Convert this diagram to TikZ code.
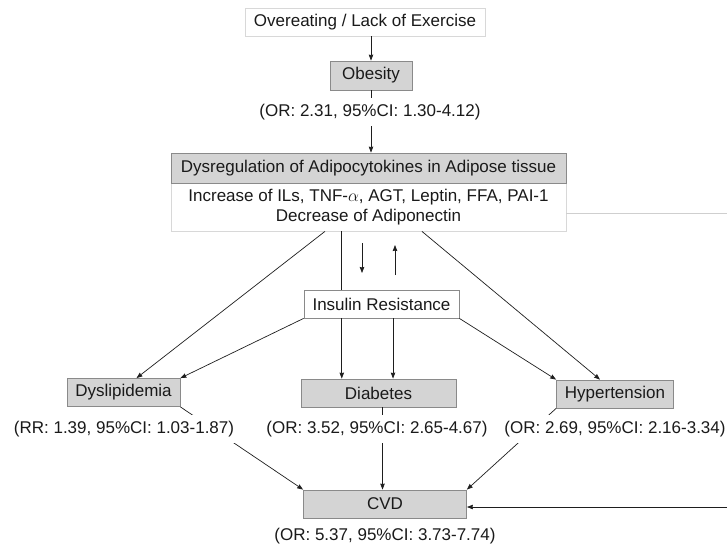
\documentclass[tikz,border=0pt]{standalone}
\usepackage{fontspec}
\setmainfont{Liberation Sans}
\usepackage{xcolor}
\usepackage{tikz}
\usetikzlibrary{arrows.meta, positioning, calc}
\definecolor{boxgray}{HTML}{D4D4D4}
\definecolor{edgegray}{HTML}{8A8A8A}
\definecolor{lightedge}{HTML}{D8D8D8}
\definecolor{linedark}{HTML}{1E1E1E}
\definecolor{faintline}{HTML}{CFCFCF}
\definecolor{textdark}{HTML}{1A1A1A}
\tikzset{
  basenode/.style={draw=edgegray, line width=0.8pt, inner sep=0pt, align=center, text=textdark, font=\fontsize{17}{20}\selectfont},
  whitebox/.style={basenode, fill=white, draw=lightedge},
  graybox/.style={basenode, fill=boxgray},
  irbox/.style={basenode, fill=white},
  orlabel/.style={fill=white, inner xsep=2pt, inner ysep=6pt, text=textdark, font=\fontsize{17}{20}\selectfont},
  arr/.style={-{Stealth[length=6pt, width=4.5pt, inset=0.5pt]}, line width=0.7pt, linedark},
  plainline/.style={line width=0.7pt, linedark},
  fadeline/.style={line width=1pt, faintline}
}

\begin{document}
\begin{tikzpicture}[x=1pt, y=-1pt]
\useasboundingbox (0,0) rectangle (727,546);

% ===== MAIN SPINE =====
\node[whitebox, minimum width=240pt, minimum height=28pt] (CAUSE) at (365, 22)  {Overeating / Lack of Exercise};
\node[graybox, minimum width=82pt, minimum height=29pt]   (OBE) at (371, 75.5)  {Obesity};
\node[whitebox, minimum width=395pt, minimum height=48pt] (ADI) at (368.5, 207) {Increase of ILs, TNF-$\alpha$, AGT, Leptin, FFA, PAI-1\\Decrease of Adiponectin};
\node[graybox, minimum width=395pt, minimum height=30pt]  (DYS) at (368.5, 168) {Dysregulation of Adipocytokines in Adipose tissue};
\node[irbox, minimum width=155pt, minimum height=28pt]    (IR) at (381.5, 304)  {Insulin Resistance};

% ===== DISEASE ROW =====
\node[graybox, minimum width=113pt, minimum height=28pt] (DLP) at (123.5, 392.5) {Dyslipidemia};
\node[graybox, minimum width=155pt, minimum height=28pt] (DIA) at (378.5, 393)   {Diabetes};
\node[graybox, minimum width=117pt, minimum height=28pt] (HTN) at (615, 394)     {Hypertension};
\node[graybox, minimum width=163pt, minimum height=28pt] (CVD) at (385, 504)     {CVD};

% ===== HELPER POINTS =====
\coordinate (ADL) at ($(ADI.south west)!0.39!(ADI.south east)$);
\coordinate (ADR) at ($(ADI.south west)!0.635!(ADI.south east)$);
\coordinate (IRa) at ($(IR.south west)!0.245!(IR.south east)$);
\coordinate (IRb) at ($(IR.south west)!0.574!(IR.south east)$);
\coordinate (DIAo) at ([xshift=4pt]DIA.south);
\coordinate (DN1) at (362, 243);
\coordinate (DN2) at (362, 273);
\coordinate (UP1) at (395, 275);
\coordinate (UP2) at (395, 245);
\coordinate (RTOP) at (727, 213);
\coordinate (RBOT) at (727, 507);

% ===== MAIN FLOW ARROWS =====
\draw[arr] (OBE.north |- CAUSE.south) -- (OBE.north);
\draw[arr] (OBE) -- (OBE |- DYS.north);
\draw[plainline] (IRa |- ADI.south) -- (IRa |- IR.north);
\draw[arr] (DN1) -- (DN2);
\draw[arr] (UP1) -- (UP2);
\draw[arr] (IRa) -- (IRa |- DIA.north);
\draw[arr] (IRb) -- (IRb |- DIA.north);

% ===== DIAGONALS =====
\draw[arr] (ADL) -- ([xshift=13pt]DLP.north);
\draw[arr] (ADR) -- ([xshift=-15pt]HTN.north);
\draw[arr] (IR.south west) -- (DLP.north east);
\draw[arr] (IR.south east) -- (HTN.north west);

% ===== TO CVD =====
\draw[arr] (DLP.south east) -- (CVD.north west);
\draw[arr] (DIAo) -- (DIAo |- CVD.north);
\draw[arr] (HTN.south west) -- (CVD.north east);
\draw[fadeline] (ADI.east |- RTOP) -- (RTOP);
\draw[arr] (RBOT) -- (RBOT -| CVD.east);

% ===== RISK LABELS =====
\node[orlabel] (ORO) at (370, 112) {(OR: 2.31, 95\%CI: 1.30-4.12)};
\node[orlabel] (RRD) at (124, 429) {(RR: 1.39, 95\%CI: 1.03-1.87)};
\node[orlabel] (ORD) at (377, 429) {(OR: 3.52, 95\%CI: 2.65-4.67)};
\node[orlabel] (ORH) at (615, 429) {(OR: 2.69, 95\%CI: 2.16-3.34)};
\node[orlabel] (ORC) at (385, 536) {(OR: 5.37, 95\%CI: 3.73-7.74)};

\end{tikzpicture}
\end{document}
